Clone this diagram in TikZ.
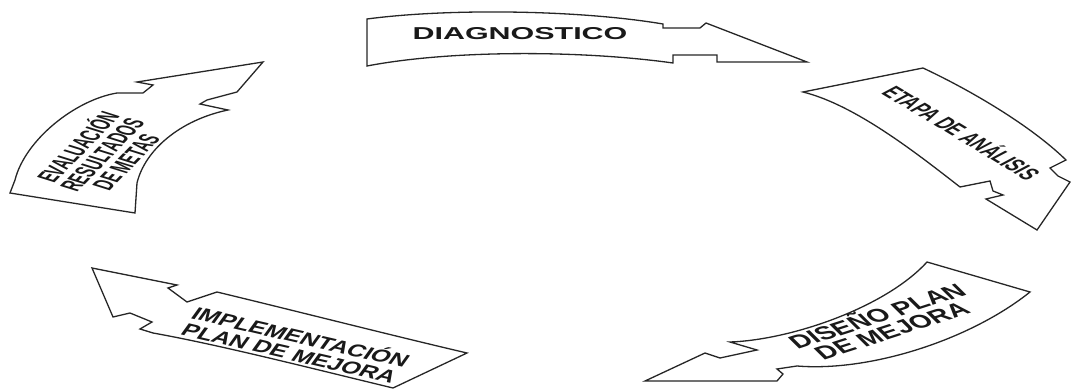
\documentclass[tikz,border=0pt]{standalone}
\usepackage{fontspec}
\setmainfont{Liberation Sans}
\begin{document}
\begin{tikzpicture}[x=1pt,y=-1pt,
  arrowshape/.style={draw=black!85, line width=1.3pt, line join=miter, fill=white},
  lbl/.style={transform shape, inner sep=0pt, align=center, text=black!90}]
\useasboundingbox (0,0) rectangle (1074,390);
% DIAGNOSTICO
\draw[arrowshape] (367,19) .. controls (450,8) and (580,10) .. (663,24) -- (663,28) -- (700,28) -- (706,23) -- (807,62) -- (717,62) -- (717,55) -- (673,55) -- (673,63) .. controls (580,50) and (450,50) .. (367,66) -- cycle;
% ETAPA DE ANALISIS
\draw[arrowshape] (803,92) -- (923,68) .. controls (970,90) and (1030,125) .. (1066,160) -- (1050,168) -- (1058,176) -- (1070,182) -- (1037,230) -- (986,199) -- (1003,195) -- (993,191) -- (990,181) -- (960,187) .. controls (915,152) and (855,105) .. (803,92) -- cycle;
% DISENO PLAN DE MEJORA
\draw[arrowshape] (927,262) -- (1030,292) .. controls (970,340) and (870,372) .. (797,366) -- (777,369) -- (783,374) -- (777,381) -- (645,381) -- (705,353) -- (720,358) -- (757,350) -- (730,342) .. controls (790,340) and (885,308) .. (927,262) -- cycle;
% IMPLEMENTACION PLAN DE MEJORA
\draw[arrowshape] (92,268) -- (177,285) -- (168,288) -- (187,302) -- (217,292) .. controls (300,312) and (390,335) .. (467,353) -- (393,388) .. controls (310,368) and (220,345) .. (153,333) -- (140,329) -- (152,322) -- (130,313) -- (113,317) -- cycle;
% EVALUACION RESULTADOS DE METAS
\draw[arrowshape] (263,62) -- (137,82) -- (153,85) -- (143,93) -- (117,93) .. controls (75,100) and (25,140) .. (15,180) -- (10,193) -- (135,213) -- (137,183) .. controls (145,150) and (180,120) .. (228,110) -- (200,104) -- (207,100) -- (237,92) -- cycle;
% labels
\begin{scope}[shift={(520,34)}, xscale=1.77]
  \node[lbl, font=\bfseries\fontsize{17.2}{17.2}\selectfont] (diag) {DIAGNOSTICO};
\end{scope}
\begin{scope}[shift={(963,132)}, xscale=1.77, rotate=-46.8, xscale=0.72]
  \node[lbl, font=\bfseries\fontsize{17}{17}\selectfont] (etapa) {ETAPA DE ANÁLISIS};
\end{scope}
\begin{scope}[shift={(883,322)}, xscale=1.77, rotate=29.9, xscale=0.87]
  \node[lbl, font=\bfseries\fontsize{18.7}{16.8}\selectfont] (diseno) {DISEÑO PLAN\\DE MEJORA};
\end{scope}
\begin{scope}[shift={(296,344)}, xscale=1.77, rotate=-22.2, xscale=0.83]
  \node[lbl, font=\bfseries\fontsize{17.4}{17.2}\selectfont] (impl) {IMPLEMENTACIÓN\\PLAN DE MEJORA};
\end{scope}
\begin{scope}[shift={(100,154)}, xscale=1.77, rotate=61, xscale=0.72]
  \node[lbl, font=\bfseries\fontsize{16.5}{15.5}\selectfont] (eval) {EVALUACIÓN\\RESULTADOS\\DE METAS};
\end{scope}
\end{tikzpicture}
\end{document}
